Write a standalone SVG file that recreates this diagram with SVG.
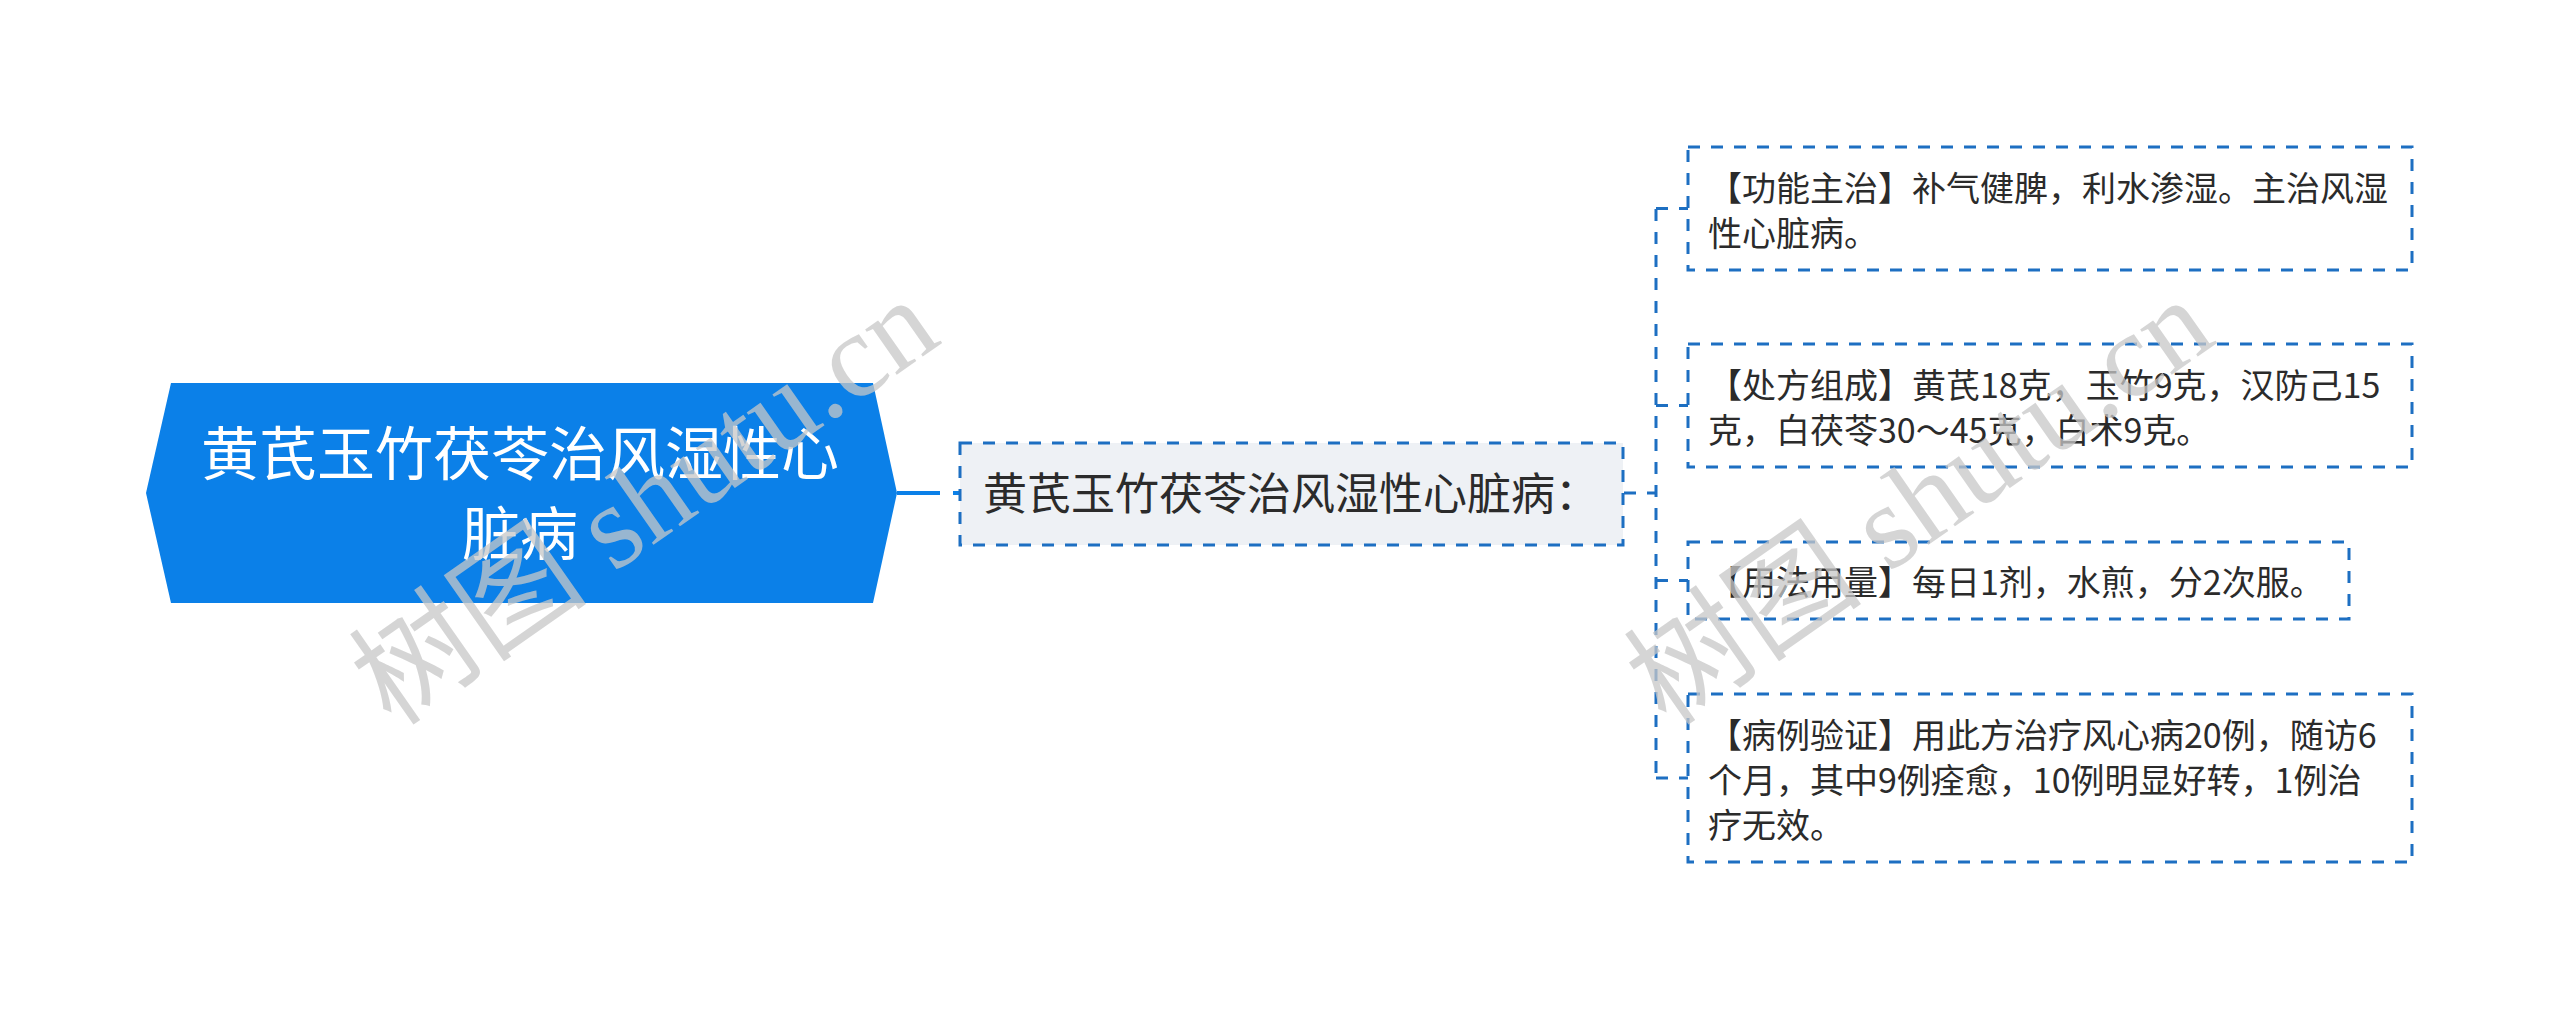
<svg xmlns="http://www.w3.org/2000/svg" width="2560" height="1009" viewBox="0 0 2560 1009">
<style>
  .cjk { font-family: "Noto Sans CJK SC", "Noto Sans", sans-serif; }
  .root-shape { fill: #0b80e8; }
  .root-text { fill: #ffffff; font-size: 58px; text-anchor: middle; }
  .sub-box { fill: #eef1f5; stroke: #1d6fc2; stroke-width: 3; stroke-dasharray: 12 11; }
  .leaf-box { fill: #ffffff; stroke: #1d6fc2; stroke-width: 3; stroke-dasharray: 12 11; }
  .sub-text { fill: #2b2b2b; font-size: 44px; }
  .leaf-text { fill: #2b2b2b; font-size: 34px; }
  .conn-dash { fill: none; stroke: #1d6fc2; stroke-width: 3; stroke-dasharray: 12 11; }
  .conn-main { fill: none; stroke: #0b80e8; stroke-width: 4; }
  .wm { fill: #c8c8c8; opacity: 0.75; font-family: "Liberation Serif", "Noto Sans CJK SC", serif; font-size: 120px; }
</style>
<rect x="0" y="0" width="2560" height="1009" fill="#ffffff"/>

<g id="connectors">
  <path class="conn-main" d="M897 493 H940"/>
  <path class="conn-main" d="M953 493 H960"/>
  <path class="conn-dash" d="M1624 493 H1656"/>
  <path class="conn-dash" d="M1656 209 V778"/>
  <path class="conn-dash" d="M1656 208.5 H1688"/>
  <path class="conn-dash" d="M1656 405.5 H1688"/>
  <path class="conn-dash" d="M1656 580.5 H1688"/>
  <path class="conn-dash" d="M1656 778 H1688"/>
</g>

<g id="node-root">
  <polygon class="root-shape" points="146,493 171,383 873,383 897,493 873,603 171,603"/>
  <text class="cjk root-text" x="520" y="475">黄芪玉竹茯苓治风湿性心</text>
  <text class="cjk root-text" x="520" y="555">脏病</text>
</g>

<g id="node-sub">
  <rect class="sub-box" x="960" y="443" width="663" height="102"/>
  <text class="cjk sub-text" x="983" y="510">黄芪玉竹茯苓治风湿性心脏病：</text>
</g>

<g id="node-leaf1">
  <rect class="leaf-box" x="1688" y="147" width="724" height="123"/>
  <text class="cjk leaf-text" x="1708" y="201">【功能主治】补气健脾，利水渗湿。主治风湿</text>
  <text class="cjk leaf-text" x="1708" y="246">性心脏病。</text>
</g>

<g id="node-leaf2">
  <rect class="leaf-box" x="1688" y="344" width="724" height="123"/>
  <text class="cjk leaf-text" x="1708" y="398">【处方组成】黄芪18克，玉竹9克，汉防己15</text>
  <text class="cjk leaf-text" x="1708" y="443">克，白茯苓30～45克，白术9克。</text>
</g>

<g id="node-leaf3">
  <rect class="leaf-box" x="1688" y="542" width="661" height="77"/>
  <text class="cjk leaf-text" x="1708" y="595">【用法用量】每日1剂，水煎，分2次服。</text>
</g>

<g id="node-leaf4">
  <rect class="leaf-box" x="1688" y="694" width="724" height="168"/>
  <text class="cjk leaf-text" x="1708" y="748">【病例验证】用此方治疗风心病20例，随访6</text>
  <text class="cjk leaf-text" x="1708" y="793">个月，其中9例痊愈，10例明显好转，1例治</text>
  <text class="cjk leaf-text" x="1708" y="838">疗无效。</text>
</g>

<g id="watermarks">
  <text class="wm" transform="translate(392,728) rotate(-35)">树图 shutu.cn</text>
  <text class="wm" transform="translate(1667,728) rotate(-35)">树图 shutu.cn</text>
</g>
</svg>
